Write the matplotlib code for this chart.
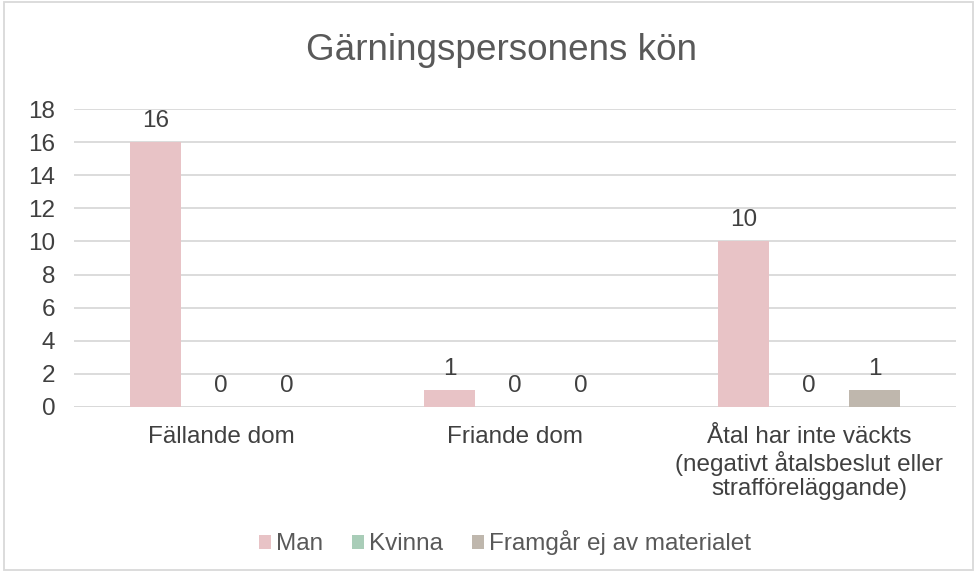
import matplotlib.pyplot as plt
import numpy as np
from matplotlib.patches import Rectangle

plt.rcParams['font.family'] = ['Liberation Sans', 'DejaVu Sans']

categories = ['Fällande dom', 'Friande dom',
              'Åtal har inte väckts\n(negativt åtalsbeslut eller\nstrafföreläggande)']
series = ['Man', 'Kvinna', 'Framgår ej av materialet']
values = {
    'Man': [16, 1, 10],
    'Kvinna': [0, 0, 0],
    'Framgår ej av materialet': [0, 0, 1],
}
colors = ['#E8C3C6', '#A9CDB8', '#BFB7AD']
yticks = [0, 2, 4, 6, 8, 10, 12, 14, 16, 18]

text_col = '#595959'
grid_col = '#D9D9D9'
fs = 17.5

fig = plt.figure(figsize=(9.77, 5.72), dpi=100)
ax = fig.add_axes([0.0757, 0.2885, 0.9028, 0.5209])

x = np.arange(len(categories))
width = 0.1735
step = 0.2228
for i, (name, col) in enumerate(zip(series, colors)):
    pos = x + (i - 1) * step
    bars = ax.bar(pos, values[name], width, color=col, label=name, zorder=3)
    for b, v in zip(bars, values[name]):
        ax.annotate(str(v), (b.get_x() + b.get_width() / 2, v),
                    xytext=(0, 7.5), textcoords='offset points',
                    ha='center', va='bottom', fontsize=fs, color='#404040')

ax.set_xlim(-0.5, 2.5)
ax.set_ylim(0, 18)
ax.set_yticks(yticks)
ax.set_xticks(x)
ax.set_xticklabels(categories, fontsize=fs, color='#404040', linespacing=1.12)
ax.tick_params(axis='y', labelsize=fs, labelcolor='#404040', length=0, pad=13.5)
ax.tick_params(axis='x', length=0, pad=14)
ax.yaxis.grid(True, color=grid_col, linewidth=1.3, zorder=0)
for s in ax.spines.values():
    s.set_visible(False)
ax.axhline(0, color=grid_col, linewidth=1.3, zorder=2)

fig.suptitle('Gärningspersonens kön', x=0.513, y=0.943, fontsize=26.6, color=text_col)

leg = fig.legend(loc='center', bbox_to_anchor=(0.517, 0.051), ncol=3, frameon=False,
                 fontsize=fs, handlelength=0.5, handleheight=0.5, handletextpad=0.2,
                 columnspacing=1.2)
for t in leg.get_texts():
    t.set_color(text_col)

fig.patches.append(Rectangle((0.004, 0.004), 0.992, 0.992, transform=fig.transFigure,
                             fill=False, edgecolor=grid_col, linewidth=1.3))

fig.savefig('out.png', dpi=100)
